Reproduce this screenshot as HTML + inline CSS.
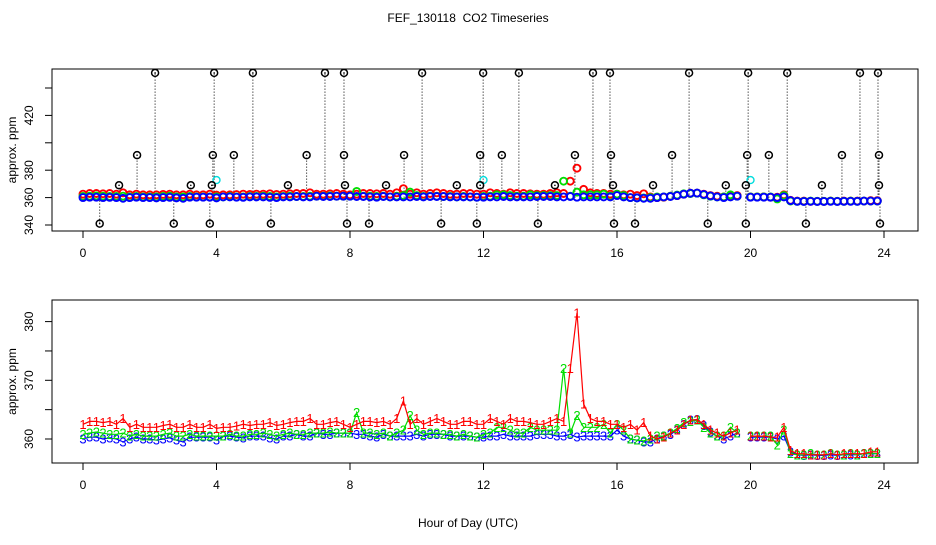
<!DOCTYPE html>
<html><head><meta charset="utf-8"><style>
body{margin:0;background:#fff}
svg text{font-family:"Liberation Sans",sans-serif}
</style></head><body>
<svg id="c" width="936" height="540" xmlns="http://www.w3.org/2000/svg">
<text x="468" y="22" font-size="12" text-anchor="middle" style="white-space:pre">FEF_130118  CO2 Timeseries</text>
<text x="468" y="527" font-size="12" text-anchor="middle">Hour of Day (UTC)</text>
<g id="topPanel"></g>
<g id="botPanel"></g>
</svg>
<script>
const redVals=[362.5,363,363,362.8,363,362.5,363.5,362,362.5,362,362,362,362.3,362.5,362,362,362.5,362,362,362.5,
361.8,362,362,362.2,362.5,362.3,362.5,362.5,362.8,362.3,362.5,362.8,363,363,363.5,362.5,362.5,362.8,363,362.5,
362,362.5,363,363,362.8,363,362.5,363.5,366.5,362.5,363.5,362.5,363,363.5,363,362.5,362.5,363,363,362.5,
362.5,363.5,363,362.5,363.5,363,363,362.8,362.5,362.5,363,363.5,363,372,381.5,366,363.5,363,363,362.5,
362.5,362,362.5,361.5,362.8,360.5,360,360.3,361,361.5,362.5,363.2,363.3,362.5,361.5,361,360.5,361,361.5,null,
360.5,360.5,360.5,360.3,360.3,362,358,357.5,357.5,357.3,357.3,357.3,357.5,357.3,357.5,357.5,357.5,357.5,357.8,357.8];
const greenVals=[360.8,361,361.2,361,360.8,360.8,361,360.5,360.8,360.5,360.5,360.5,360.8,361,360.5,360.5,360.8,360.5,360.5,360.5,
360.5,360.5,360.8,360.5,360.5,360.8,360.8,361,360.8,360.5,360.8,361,360.8,360.8,361,361,361,361.2,361,361,
361,364.5,361,361,360.8,361,360.5,361,361.5,364,361.5,360.8,361,361,360.8,360.8,360.5,360.8,360.5,360.3,
360.8,361,362,362,361.5,361,361,362,361.5,361.5,361.5,361.5,372,361,364,362,362,362,362.5,361,
362.5,361.5,360,359.8,359.7,360,360.5,360.5,361,361.8,362.8,363,363.2,362,361,360.5,360.5,362,361,null,
360.5,360.5,360.5,360.5,359,361.5,357.5,357.3,357.3,357.5,357.3,357.3,357.5,357.3,357.3,357.5,357.3,357.5,357.5,357.5];
const blueVals=[360,360.3,360.3,360,360.2,360,359.5,360,360.3,360,360,359.8,360,360.2,359.8,359.5,360.3,360.3,360.3,360.3,
359.8,360.5,360.5,360.3,360.2,360.5,360.5,360.5,360.2,360,360.5,360.5,360.8,360.5,360.5,361,360.8,360.8,361,361,
361,360.8,360.8,360.5,360.3,360.8,360.5,360.5,360.5,360.5,360.8,360.5,360.8,360.8,360.8,360.5,360.5,360.5,360.5,360.3,
360.3,360.5,360.5,360.8,360.5,360.5,360.5,360.5,360.8,360.8,360.8,360.5,360.5,360.8,360.3,360.5,360.5,360.5,360.5,360.5,
361.5,360.5,360,359.8,359.5,359.5,360,360.5,360.8,361.5,362.5,363.2,363.3,362.3,361.2,360.5,360,360.5,361,null,
360.3,360.3,360.3,360.3,360,360.5,357.8,357.3,357.2,357.3,357.2,357.2,357.3,357.2,357.3,357.3,357.3,357.5,357.5,357.5];
const blackHours=[2.16,3.93,5.09,7.25,7.82,10.16,11.99,13.06,15.28,15.79,18.16,19.93,21.10,23.28,23.82,
1.62,3.89,4.52,6.70,7.82,9.62,11.90,12.55,14.74,15.82,17.65,19.90,20.55,22.74,23.85,
1.08,3.23,3.86,6.14,7.85,9.08,11.20,11.90,14.14,15.88,17.08,19.26,19.86,22.14,23.85,
0.50,2.72,3.80,5.63,7.91,8.57,10.73,11.80,13.63,15.91,16.54,18.72,19.86,21.66,23.88];
const blackVals=[451,451,451,451,451,451,451,451,451,451,451,451,451,451,451,
391,391,391,391,391,391,391,391,391,391,391,391,391,391,391,
369,369,369,369,369,369,369,369,369,369,369,369,369,369,369,
341,341,341,341,341,341,341,341,341,341,341,341,341,341,341];
const cyanHours=[4.0,12.0,20.0];
const cyanVals=[372.8,372.8,372.8];
const xTicks=[0,4,8,12,16,20,24];
const topYTicks=[340,360,380,400,420,440];
const topYLabels=["340","360","380","","420",""];
const botYTicks=[360,365,370,375,380];
const botYLabels=["360","","370","","380"];

const NS="http://www.w3.org/2000/svg";
function mk(tag,attrs,parent,txt){const e=document.createElementNS(NS,tag);for(const k in attrs)e.setAttribute(k,attrs[k]);if(txt!==undefined)e.textContent=txt;parent.appendChild(e);return e;}
const X=h=>83+h*33.375;
const hourOf=i=>i*0.2;
const Ytop=v=>225-(v-340)*1.37;
const Ybot=v=>439-(v-360)*5.87;

function frame(g,y0,y1,Y,yt,yl,name){
  const r=mk('rect',{x:52,y:y0,width:866,height:y1-y0,fill:'none',stroke:'#000','stroke-width':1},g);
  
  
  xTicks.forEach(t=>{
    const l=mk('line',{x1:X(t),x2:X(t),y1:y1,y2:y1+7,stroke:'#000'},g);
    
    
    const tx=mk('text',{x:X(t),y:y1+26,'font-size':12,'text-anchor':'middle'},g,String(t));
    
    
  });
  yt.forEach((t,i)=>{
    const l=mk('line',{x1:45,x2:52,y1:Y(t),y2:Y(t),stroke:'#000'},g);
    
    
    if(yl[i]){const tx=mk('text',{x:0,y:0,'font-size':12,'text-anchor':'middle',transform:`translate(33,${Y(t)}) rotate(-90)`},g,yl[i]);
    
    }
  });
  const yl2=mk('text',{x:0,y:0,'font-size':12,'text-anchor':'middle',transform:`translate(16,${(y0+y1)/2}) rotate(-90)`},g,'approx. ppm');
  
  
}
const topG=document.getElementById('topPanel'), botG=document.getElementById('botPanel');
frame(topG,69,231,Ytop,topYTicks,topYLabels,'top');
frame(botG,300,463,Ybot,botYTicks,botYLabels,'bottom');

blackHours.forEach((h,i)=>{
  const l=mk('line',{x1:X(h),x2:X(h),y1:Ytop(360),y2:Ytop(blackVals[i]),stroke:'#000','stroke-dasharray':'1,2'},topG);
  
  
});
const series=[[redVals,'#f00','1'],[greenVals,'#0d0','2'],[blueVals,'#00f','3']];
series.forEach(([vals,col])=>{
  vals.forEach((v,i)=>{ if(v===null)return;
    const c=mk('circle',{cx:X(hourOf(i)),cy:Ytop(v),r:3.5,fill:'none',stroke:col,'stroke-width':1.9},topG);
    
    
  });
});
cyanHours.forEach((h,i)=>{
  const c=mk('circle',{cx:X(h),cy:Ytop(cyanVals[i]),r:3.5,fill:'none',stroke:'#0dd','stroke-width':1.4},topG);
  
  
});
blackHours.forEach((h,i)=>{
  const c=mk('circle',{cx:X(h),cy:Ytop(blackVals[i]),r:3.5,fill:'none',stroke:'#000','stroke-width':1.5},topG);
  
  
  mk('circle',{cx:X(h),cy:Ytop(blackVals[i]),r:0.8,fill:'#000'},topG);
});

series.slice().reverse().forEach(([vals,col,ch])=>{
  let d='';let pen=false;
  vals.forEach((v,i)=>{ if(v===null){pen=false;return;}
    d+=(pen?'L':'M')+X(hourOf(i)).toFixed(1)+','+Ybot(v).toFixed(1);pen=true;});
  const p=mk('path',{d:d,fill:'none',stroke:col,'stroke-width':1.2},botG);
  
  
  vals.forEach((v,i)=>{ if(v===null)return;
    const t=mk('text',{x:X(hourOf(i)),y:Ybot(v)+4.5,'font-size':13,fill:col,'text-anchor':'middle'},botG,ch);
    
    
  });
});
</script>
</body></html>
